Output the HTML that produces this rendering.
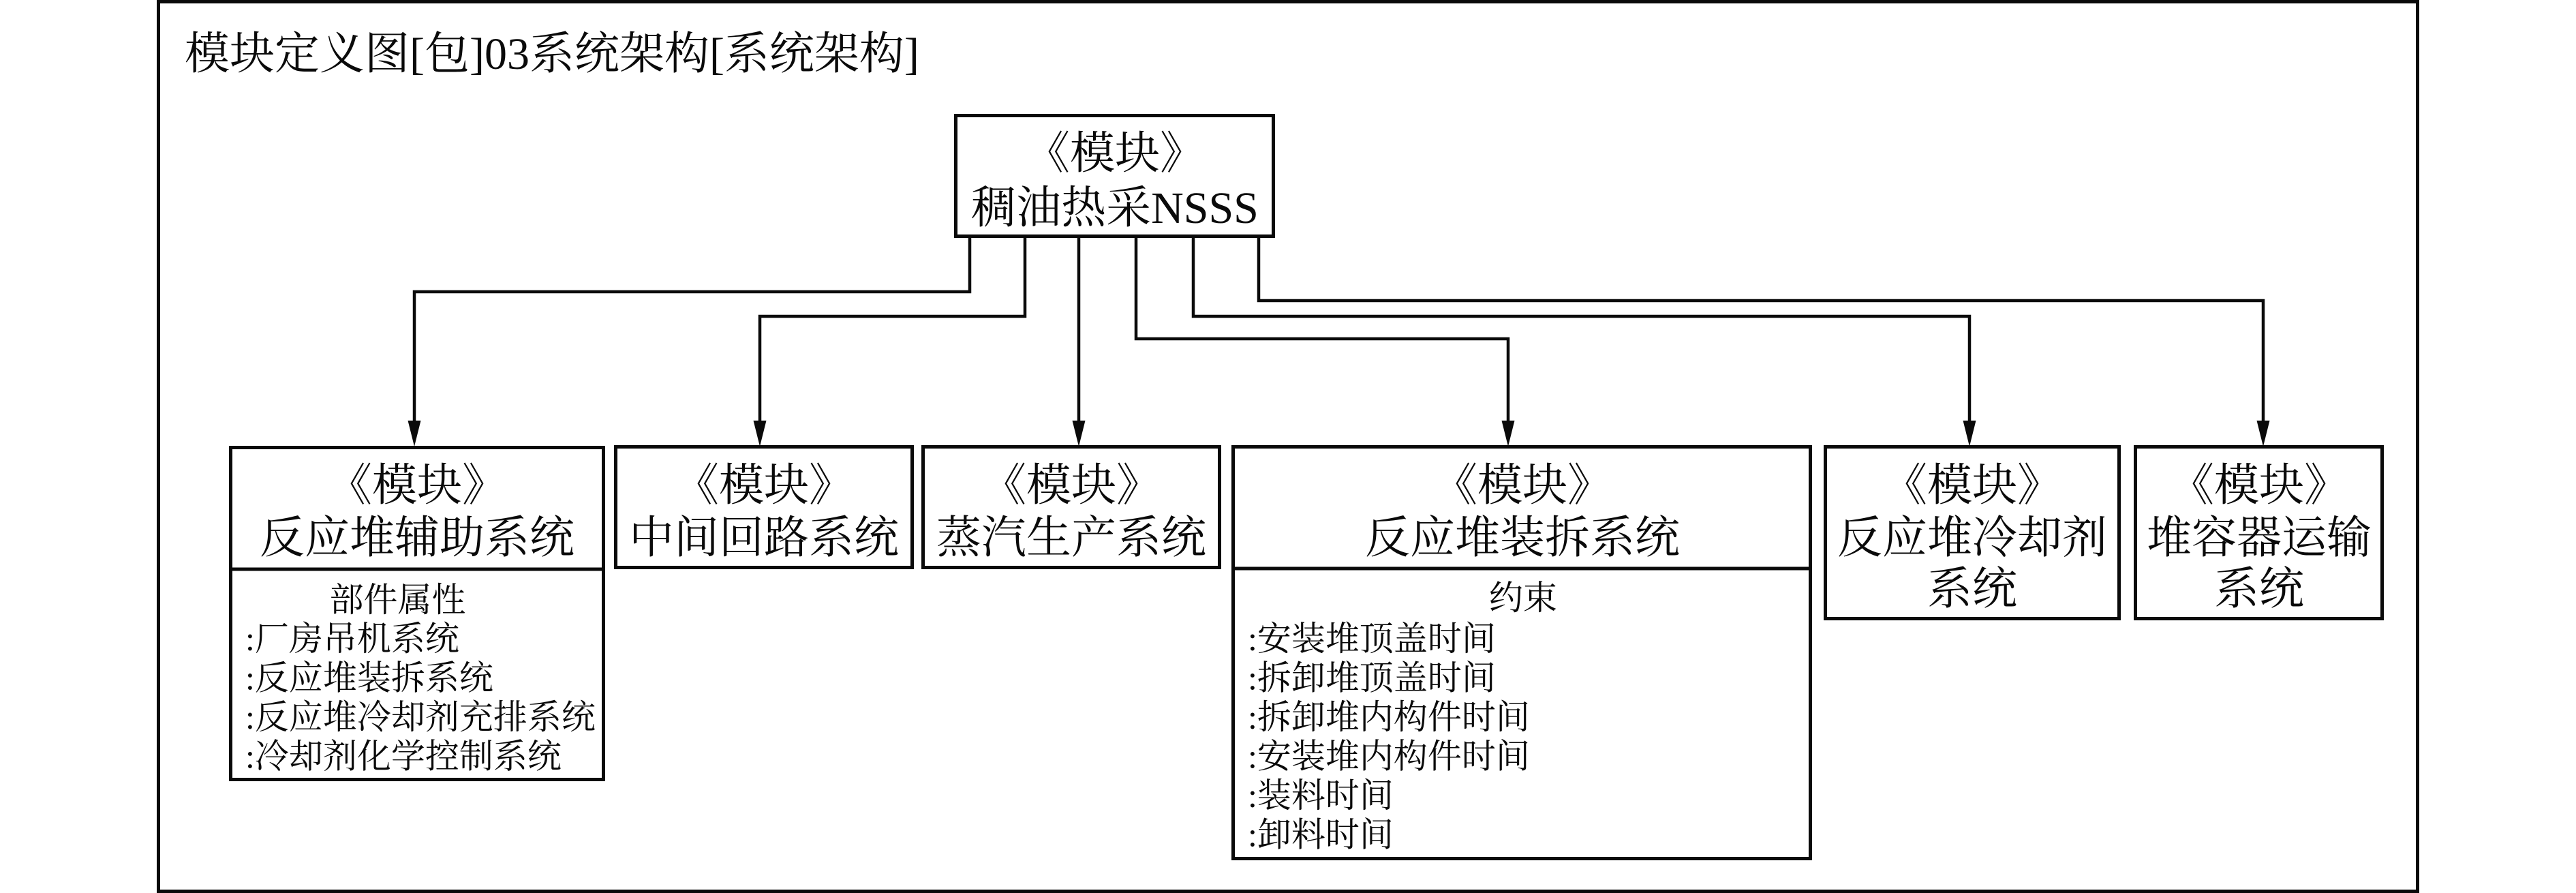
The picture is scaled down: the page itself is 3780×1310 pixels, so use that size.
<!DOCTYPE html>
<html>
<head>
<meta charset="utf-8">
<style>
  html,body{margin:0;padding:0;background:#fff;}
  body{width:3780px;height:1310px;overflow:hidden;}
  svg{display:block;}
  text{font-family:"Liberation Serif","Noto Serif CJK SC","Noto Sans CJK SC",serif;fill:#0a0a0a;}
  .h{font-size:66px;}
  .c{font-size:50px;}
</style>
</head>
<body>
<svg width="3780" height="1310" viewBox="0 0 3780 1310" xmlns="http://www.w3.org/2000/svg">
  <rect x="0" y="0" width="3780" height="1310" fill="#fff"/>
  <!-- outer frame -->
  <rect x="232.5" y="2.5" width="3315" height="1305" fill="none" stroke="#0a0a0a" stroke-width="5"/>
  <text class="h" x="271" y="101">模块定义图[包]03系统架构[系统架构]</text>

  <!-- root block -->
  <rect x="1402.5" y="169.5" width="466" height="177" fill="#fff" stroke="#0a0a0a" stroke-width="5"/>
  <text class="h" x="1636" y="247" text-anchor="middle">《模块》</text>
  <text class="h" x="1636" y="327" text-anchor="middle">稠油热采NSSS</text>

  <!-- connectors -->
  <g fill="none" stroke="#0a0a0a" stroke-width="4.5" stroke-linejoin="miter" stroke-linecap="butt">
    <polyline points="1423,349 1423,428 608,428 608,621"/>
    <polyline points="1504,349 1504,464 1115,464 1115,621"/>
    <polyline points="1583,349 1583,621"/>
    <polyline points="1667,349 1667,497 2213,497 2213,621"/>
    <polyline points="1751,349 1751,464 2890,464 2890,621"/>
    <polyline points="1847,349 1847,441 3321,441 3321,621"/>
  </g>
  <g fill="#0a0a0a">
    <polygon points="598.5,617 617.5,617 608,655"/>
    <polygon points="1105.5,617 1124.5,617 1115,655"/>
    <polygon points="1573.5,617 1592.5,617 1583,655"/>
    <polygon points="2203.5,617 2222.5,617 2213,655"/>
    <polygon points="2880.5,617 2899.5,617 2890,655"/>
    <polygon points="3311.5,617 3330.5,617 3321,655"/>
  </g>

  <!-- Box A -->
  <rect x="338.5" y="656.5" width="547" height="487" fill="none" stroke="#0a0a0a" stroke-width="5"/>
  <line x1="338.5" y1="835" x2="885.5" y2="835" stroke="#0a0a0a" stroke-width="5"/>
  <text class="h" x="612" y="734" text-anchor="middle">《模块》</text>
  <text class="h" x="612" y="811" text-anchor="middle">反应堆辅助系统</text>
  <text class="c" x="583.5" y="897" text-anchor="middle">部件属性</text>
  <text class="c" x="360" y="954">:厂房吊机系统</text>
  <text class="c" x="360" y="1011.5">:反应堆装拆系统</text>
  <text class="c" x="360" y="1069">:反应堆冷却剂充排系统</text>
  <text class="c" x="360" y="1126.5">:冷却剂化学控制系统</text>

  <!-- Box B -->
  <rect x="903.5" y="655.5" width="435" height="177" fill="none" stroke="#0a0a0a" stroke-width="5"/>
  <text class="h" x="1121" y="734" text-anchor="middle">《模块》</text>
  <text class="h" x="1121" y="811" text-anchor="middle">中间回路系统</text>

  <!-- Box C -->
  <rect x="1354.5" y="655.5" width="435" height="177" fill="none" stroke="#0a0a0a" stroke-width="5"/>
  <text class="h" x="1572" y="734" text-anchor="middle">《模块》</text>
  <text class="h" x="1572" y="811" text-anchor="middle">蒸汽生产系统</text>

  <!-- Box D -->
  <rect x="1809.5" y="655.5" width="847" height="604" fill="none" stroke="#0a0a0a" stroke-width="5"/>
  <line x1="1809.5" y1="834" x2="2656.5" y2="834" stroke="#0a0a0a" stroke-width="5"/>
  <text class="h" x="2234" y="734" text-anchor="middle">《模块》</text>
  <text class="h" x="2234" y="811" text-anchor="middle">反应堆装拆系统</text>
  <text class="c" x="2235" y="894" text-anchor="middle">约束</text>
  <text class="c" x="1831" y="954">:安装堆顶盖时间</text>
  <text class="c" x="1831" y="1011.5">:拆卸堆顶盖时间</text>
  <text class="c" x="1831" y="1069">:拆卸堆内构件时间</text>
  <text class="c" x="1831" y="1126.5">:安装堆内构件时间</text>
  <text class="c" x="1831" y="1184">:装料时间</text>
  <text class="c" x="1831" y="1241.5">:卸料时间</text>

  <!-- Box E -->
  <rect x="2678.5" y="655.5" width="431" height="252" fill="none" stroke="#0a0a0a" stroke-width="5"/>
  <text class="h" x="2894" y="734" text-anchor="middle">《模块》</text>
  <text class="h" x="2894" y="811" text-anchor="middle">反应堆冷却剂</text>
  <text class="h" x="2894" y="886" text-anchor="middle">系统</text>

  <!-- Box F -->
  <rect x="3133.5" y="655.5" width="362" height="252" fill="none" stroke="#0a0a0a" stroke-width="5"/>
  <text class="h" x="3315" y="734" text-anchor="middle">《模块》</text>
  <text class="h" x="3315" y="811" text-anchor="middle">堆容器运输</text>
  <text class="h" x="3315" y="886" text-anchor="middle">系统</text>
</svg>
</body>
</html>
